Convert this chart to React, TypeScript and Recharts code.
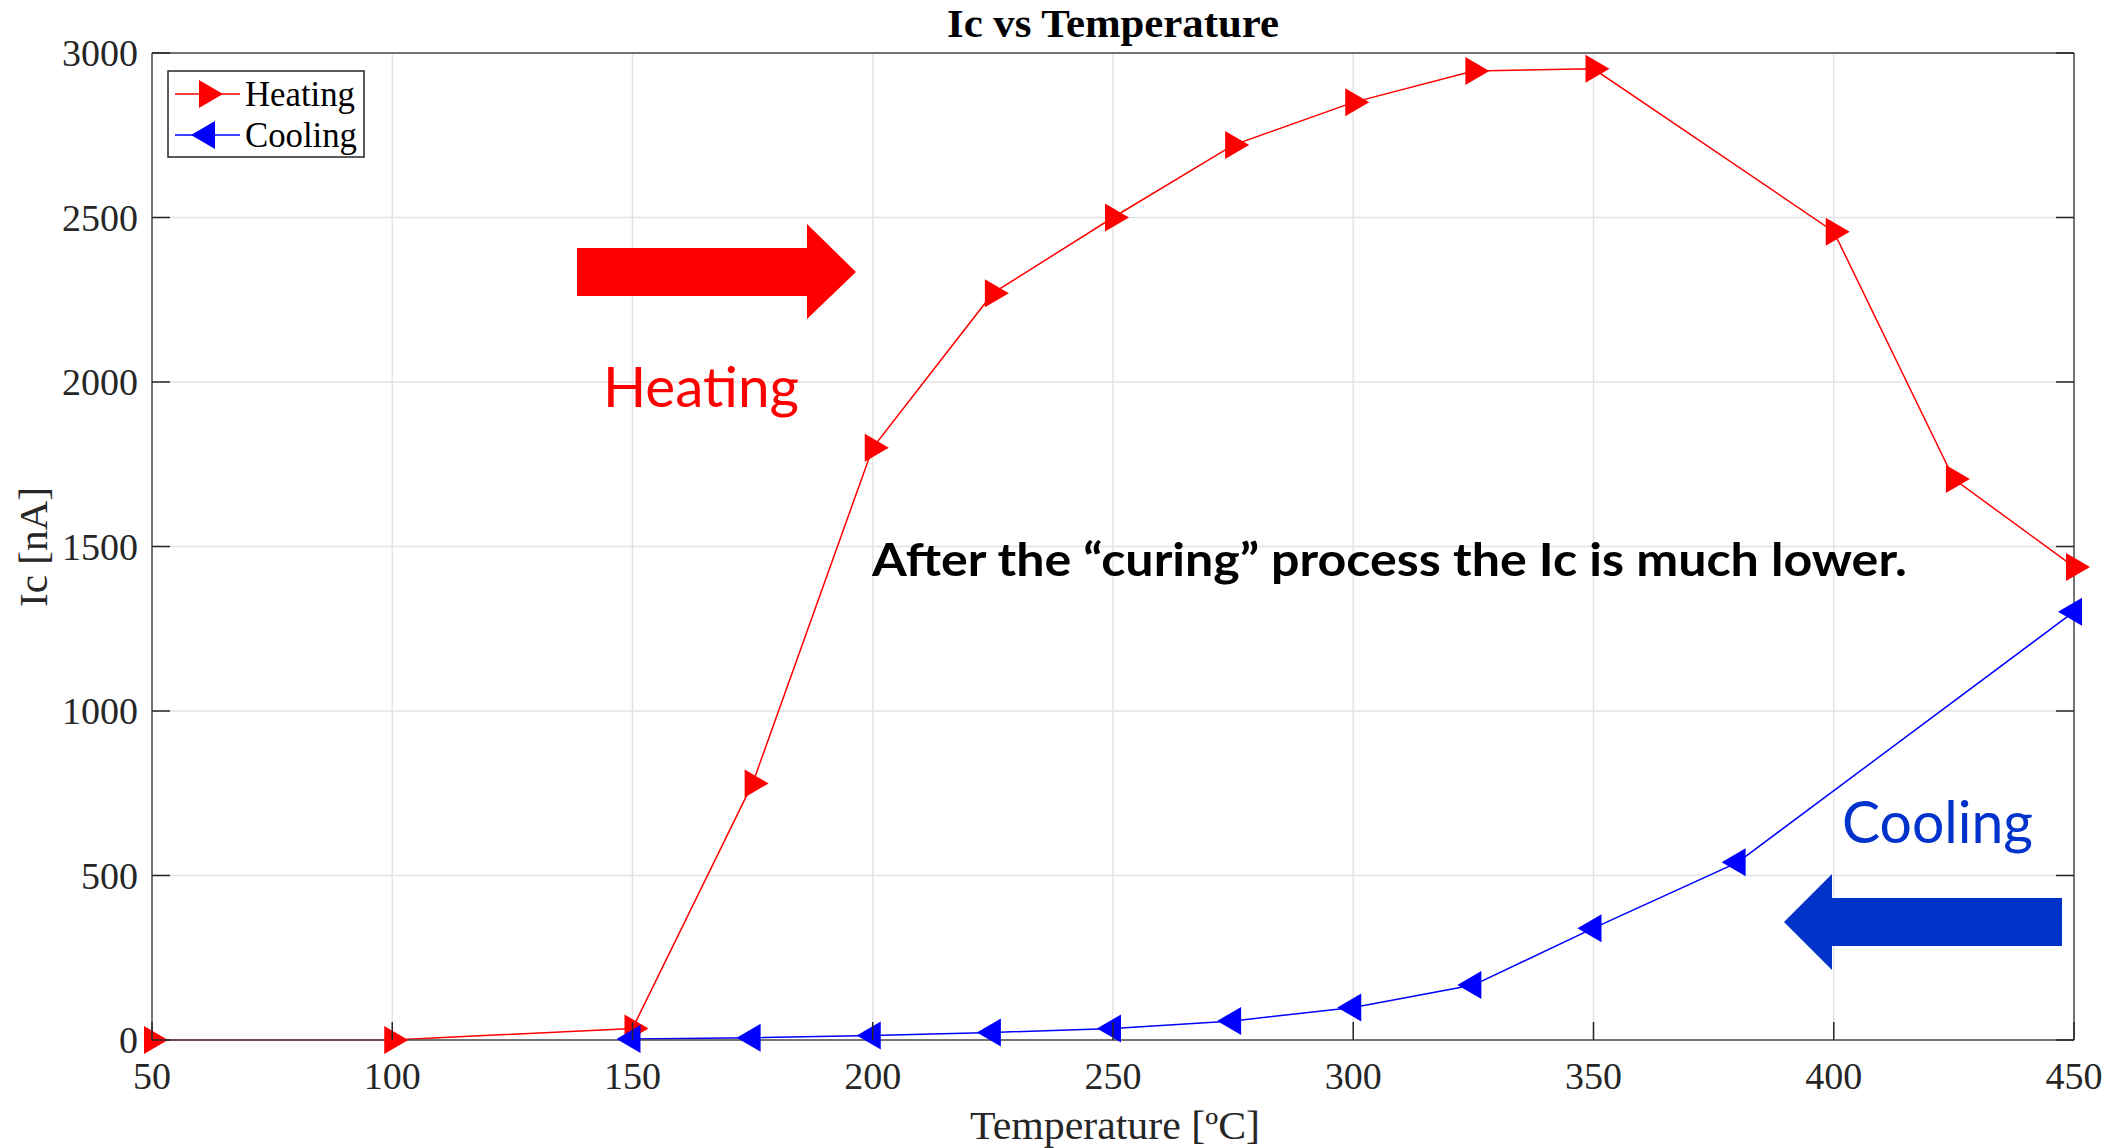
import React from 'react';
import { LineChart, Line, XAxis, YAxis, CartesianGrid } from 'recharts';

// ---- data ----
const heatingTemp = [50, 100, 150, 175, 200, 225, 250, 275, 300, 325, 350, 400, 425, 450];
const heatingIc = [0, 0, 35, 780, 1800, 2270, 2500, 2720, 2850, 2945, 2952, 2457, 1705, 1438];
const coolingTemp = [150, 175, 200, 225, 250, 275, 300, 325, 350, 380, 450];
const coolingIc = [3, 7, 14, 23, 35, 58, 99, 167, 340, 540, 1302];
const xTicks = [50, 100, 150, 200, 250, 300, 350, 400, 450];
const yTicks = [0, 500, 1000, 1500, 2000, 2500, 3000];
const seriesNames = ['Heating', 'Cooling'];
const titleText = 'Ic vs Temperature';
const xLabelText = 'Temperature [ºC]';
const yLabelText = 'Ic [nA]';
const noteText = 'After the “curing” process the Ic is much lower.';
const heatingNote = 'Heating';
const coolingNote = 'Cooling';

const heatingData = heatingTemp.map((t, i) => ({ t, ic: heatingIc[i] }));
const coolingData = coolingTemp.map((t, i) => ({ t, ic: coolingIc[i] }));

const W = 2118;
const H = 1148;
const SERIF = '"Liberation Serif", "Times New Roman", serif';
const SANS = 'Lato, Carlito, Calibri, "Open Sans", sans-serif';
const AXIS_COLOR = '#4d4d4d';
const TICK_COLOR = '#262626';
const TICK_LEN = 18;
const TICK_FONT = 38;

const RED = '#ff0000';
const BLUE = '#0000ff';
const NOTE_BLUE = '#0033cc';

const MW = 24;
const MH = 28;
const rightTri = (cx: number, cy: number) =>
  `M${cx - MW / 3},${cy - MH / 2} L${cx + (2 * MW) / 3},${cy} L${cx - MW / 3},${cy + MH / 2} Z`;
const leftTri = (cx: number, cy: number) =>
  `M${cx + MW / 3},${cy - MH / 2} L${cx - (2 * MW) / 3},${cy} L${cx + MW / 3},${cy + MH / 2} Z`;

const HeatDot = (p: any) => {
  if (p.cx == null || p.cy == null) return <g key={`h${p.index}`} />;
  return <path key={`h${p.index}`} d={rightTri(p.cx, p.cy)} fill={RED} stroke="none" />;
};
const CoolDot = (p: any) => {
  if (p.cx == null || p.cy == null) return <g key={`c${p.index}`} />;
  return <path key={`c${p.index}`} d={leftTri(p.cx, p.cy)} fill={BLUE} stroke="none" />;
};

const BottomTick = (p: any) => {
  const { x, y, payload } = p;
  return (
    <g>
      <line x1={x} y1={y} x2={x} y2={y - TICK_LEN} stroke={TICK_COLOR} strokeWidth={1.5} />
      <text x={x} y={y + 49} textAnchor="middle" fontFamily={SERIF} fontSize={TICK_FONT} fill={TICK_COLOR}>
        {payload.value}
      </text>
    </g>
  );
};
const TopTick = (p: any) => {
  const { x, y } = p;
  return <line x1={x} y1={y} x2={x} y2={y + TICK_LEN} stroke={TICK_COLOR} strokeWidth={1.5} />;
};
const LeftTick = (p: any) => {
  const { x, y, payload } = p;
  return (
    <g>
      <line x1={x} y1={y} x2={x + TICK_LEN} y2={y} stroke={TICK_COLOR} strokeWidth={1.5} />
      <text x={x - 14} y={y + 13} textAnchor="end" fontFamily={SERIF} fontSize={TICK_FONT} fill={TICK_COLOR}>
        {payload.value}
      </text>
    </g>
  );
};
const RightTick = (p: any) => {
  const { x, y } = p;
  return <line x1={x} y1={y} x2={x - TICK_LEN} y2={y} stroke={TICK_COLOR} strokeWidth={1.5} />;
};

export default function App() {
  return (
    <div style={{ position: 'absolute', left: 0, top: 0, width: W, height: H, background: '#fff' }}>
      <LineChart width={W} height={H} data={heatingData} margin={{ top: 43, right: 34, bottom: 0, left: 0 }}>
        <CartesianGrid stroke="#e3e3e3" strokeWidth={1.5} />
        <XAxis
          dataKey="t"
          type="number"
          domain={[50, 450]}
          ticks={xTicks}
          interval={0}
          height={108}
          axisLine={{ stroke: AXIS_COLOR, strokeWidth: 1.5 }}
          tickLine={false}
          tickSize={0}
          tickMargin={0}
          tick={BottomTick}
        />
        <XAxis
          xAxisId="top"
          orientation="top"
          type="number"
          domain={[50, 450]}
          ticks={xTicks}
          interval={0}
          height={10}
          axisLine={{ stroke: AXIS_COLOR, strokeWidth: 1.5 }}
          tickLine={false}
          tickSize={0}
          tickMargin={0}
          tick={TopTick}
          allowDataOverflow
        />
        <YAxis
          type="number"
          domain={[0, 3000]}
          ticks={yTicks}
          interval={0}
          width={152}
          axisLine={{ stroke: AXIS_COLOR, strokeWidth: 1.5 }}
          tickLine={false}
          tickSize={0}
          tickMargin={0}
          tick={LeftTick}
        />
        <YAxis
          yAxisId="right"
          orientation="right"
          type="number"
          domain={[0, 3000]}
          ticks={yTicks}
          interval={0}
          width={10}
          axisLine={{ stroke: AXIS_COLOR, strokeWidth: 1.5 }}
          tickLine={false}
          tickSize={0}
          tickMargin={0}
          tick={RightTick}
          allowDataOverflow
        />
        <Line
          data={heatingData}
          dataKey="ic"
          name={seriesNames[0]}
          type="linear"
          stroke={RED}
          strokeWidth={1.5}
          dot={HeatDot}
          activeDot={false}
          isAnimationActive={false}
        />
        <Line
          data={coolingData}
          dataKey="ic"
          name={seriesNames[1]}
          type="linear"
          stroke={BLUE}
          strokeWidth={1.5}
          dot={CoolDot}
          activeDot={false}
          isAnimationActive={false}
        />
      </LineChart>
      <svg
        width={W}
        height={H}
        style={{ position: 'absolute', left: 0, top: 0, pointerEvents: 'none' }}
      >
        {/* title */}
        <text x={1113} y={37} textAnchor="middle" fontFamily={SERIF} fontWeight="bold" fontSize={41} fill="#000" textLength={332} lengthAdjust="spacingAndGlyphs">
          {titleText}
        </text>
        {/* axis labels */}
        <text x={1115} y={1139} textAnchor="middle" fontFamily={SERIF} fontSize={40} fill={TICK_COLOR} textLength={290} lengthAdjust="spacingAndGlyphs">
          {xLabelText}
        </text>
        <text x={47} y={547} transform="rotate(-90 47 547)" textAnchor="middle" fontFamily={SERIF} fontSize={41} fill={TICK_COLOR} textLength={120} lengthAdjust="spacingAndGlyphs">
          {yLabelText}
        </text>
        {/* legend */}
        <rect x={168} y={71} width={196} height={86} fill="#fff" stroke={TICK_COLOR} strokeWidth={1.5} />
        <line x1={175} y1={94} x2={240} y2={94} stroke={RED} strokeWidth={1.5} />
        <path d={rightTri(207, 94)} fill={RED} />
        <text x={245} y={106} fontFamily={SERIF} fontSize={35} fill="#000" textLength={110} lengthAdjust="spacingAndGlyphs">
          {seriesNames[0]}
        </text>
        <line x1={175} y1={135} x2={240} y2={135} stroke={BLUE} strokeWidth={1.5} />
        <path d={leftTri(207, 135)} fill={BLUE} />
        <text x={245} y={147} fontFamily={SERIF} fontSize={35} fill="#000" textLength={112} lengthAdjust="spacingAndGlyphs">
          {seriesNames[1]}
        </text>
        {/* annotations */}
        <polygon points="577,248 807,248 807,224 856,272 807,319 807,296 577,296" fill={RED} />
        <text x={603} y={407} fontFamily={SANS} fontSize={57} fill={RED} textLength={196} lengthAdjust="spacingAndGlyphs">
          {heatingNote}
        </text>
        <polygon points="2062,898 1832,898 1832,874 1784,922 1832,970 1832,946 2062,946" fill={NOTE_BLUE} />
        <text x={1842} y={843} fontFamily={SANS} fontSize={58} fill={NOTE_BLUE} textLength={191} lengthAdjust="spacingAndGlyphs">
          {coolingNote}
        </text>
        <text x={872} y={576} fontFamily={SANS} fontWeight="bold" fontSize={46} fill="#000" textLength={1035} lengthAdjust="spacingAndGlyphs">
          {noteText}
        </text>
      </svg>
    </div>
  );
}
